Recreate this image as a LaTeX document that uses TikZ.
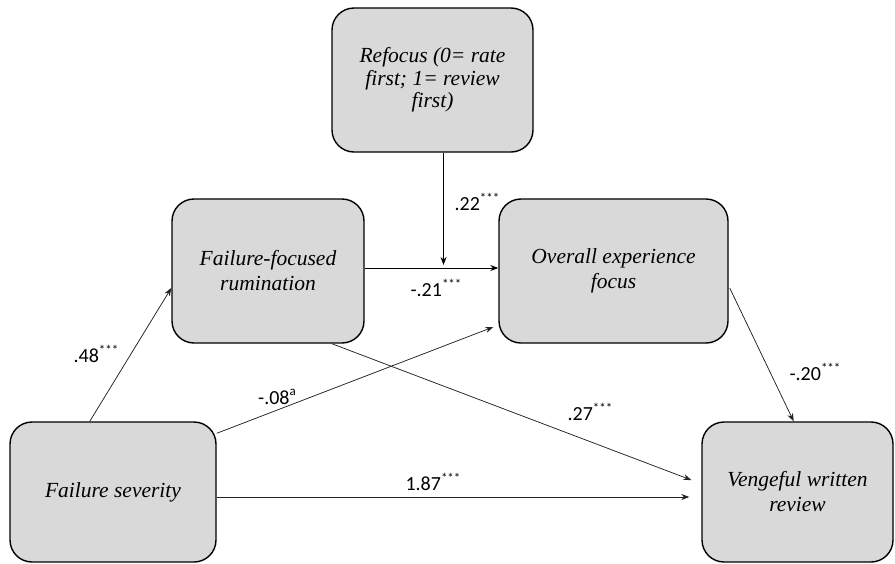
\documentclass[tikz,border=0pt]{standalone}
\usepackage{fontspec}
\setmainfont{Liberation Serif}
\newfontfamily\lblfont{Carlito}
\usetikzlibrary{arrows.meta,calc}
\definecolor{boxgray}{HTML}{D9D9D9}
\definecolor{linegray}{HTML}{222222}
\newcommand{\supmark}[1]{\raisebox{0.42em}{\fontsize{13}{13}\selectfont #1}}
\begin{document}
\begin{tikzpicture}[x=1pt,y=-1pt,
  box/.style={draw=black, line width=1.4pt, fill=boxgray, rounded corners=22pt,
    inner sep=0pt, align=center, font=\fontsize{21.5}{25}\selectfont\itshape},
  conn/.style={draw=linegray, line width=0.75pt, -{Stealth[length=8pt,width=6pt]}},
  mainconn/.style={conn, draw=black, line width=1pt},
  lbl/.style={font=\lblfont\fontsize{20}{22}\selectfont, inner sep=0pt}
]
\useasboundingbox (0,0) rectangle (895,563);

\node[box, minimum width=201pt, minimum height=144pt,
      font=\fontsize{21.5}{22.5}\selectfont\itshape] (refocus) at (432.5,80)
  {Refocus (0= rate\\ first; 1= review\\ first)};
\node[box, minimum width=192pt, minimum height=144pt] (ffr) at (268,271)
  {Failure-focused\\ rumination};
\node[box, minimum width=229pt, minimum height=144pt] (oef) at (613.5,271)
  {Overall experience\\ focus};
\node[box, minimum width=206pt, minimum height=140pt] (fs) at (113,492)
  {Failure severity};
\node[box, minimum width=191pt, minimum height=140pt] (vwr) at (797.5,492)
  {Vengeful written\\ review};

\coordinate (mod) at ($($(ffr.east)!0.59!(oef.west)$)+(0,-3)$);

\draw[conn] ($(fs.north west)!0.388!(fs.north east)$) -- ($(ffr.west)+(0,17)$);
\draw[conn] ($(fs.north east)+(0,12)$) -- ($(oef.west)+(-5,56)$);
\draw[conn] ($(ffr.south west)!0.83!(ffr.south east)$) -- ($(vwr.west)+(-10,-12)$);
\draw[conn] ($(fs.east)+(0,5)$) -- ($(vwr.west)+(-12,5)$);
\draw[conn] ($(oef.east)+(1,17)$) -- ($(vwr.north west)!0.48!(vwr.north east)$);
\draw[mainconn] ($(ffr.east)+(0,-3)$) -- ($(oef.west)+(0,-3)$);
\draw[mainconn, shorten >=3pt] (refocus.south -| mod) -- (mod);

\node[lbl] (l22) at (477,202) {.22\supmark{***}};
\node[lbl] (l21) at (436,288) {-.21\supmark{***}};
\node[lbl] (l48) at (96,354) {.48\supmark{***}};
\node[lbl] (l08) at (277,397) {-.08\supmark{a}};
\node[lbl] (l27) at (590,412) {.27\supmark{***}};
\node[lbl] (l187) at (433,482) {1.87\supmark{***}};
\node[lbl] (l20) at (815,372) {-.20\supmark{***}};
\end{tikzpicture}
\end{document}
